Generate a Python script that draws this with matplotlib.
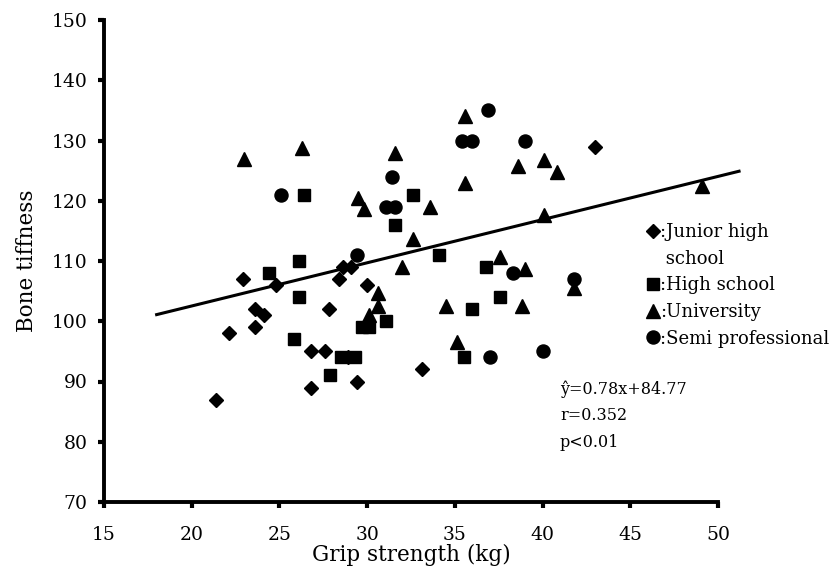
import matplotlib
matplotlib.use("Agg")
import matplotlib.pyplot as plt
from matplotlib.lines import Line2D

plt.rcParams["font.family"] = ["DejaVu Serif", "DejaVu Sans"]

# Junior high school (diamonds)
jh_x = [21.4, 22.1, 22.9, 23.6, 24.1, 23.6, 24.8, 26.8, 27.6, 26.8, 27.8,
        28.4, 28.6, 29.1, 28.9, 29.4, 30.0, 33.1, 43.0]
jh_y = [87, 98, 107, 102, 101, 99, 106, 95, 95, 89, 102,
        107, 109, 109, 94, 90, 106, 92, 129]

# High school (squares)
hs_x = [24.4, 26.1, 26.1, 25.85, 27.9, 26.4, 28.5, 29.3, 29.7, 30.1, 31.1,
        31.6, 32.6, 34.1, 35.5, 36.0, 36.8, 37.6]
hs_y = [108, 110, 104, 97, 91, 121, 94, 94, 99, 99, 100,
        116, 121, 111, 94, 102, 109, 104]

# University (triangles)
un_x = [23.0, 26.3, 29.5, 29.8, 31.6, 32.6, 32.0, 30.6, 30.6, 30.1, 33.6,
        34.5, 35.1, 35.6, 35.6, 37.6, 38.6, 39.0, 38.8, 40.1, 40.85, 40.1,
        41.8, 49.1]
un_y = [127, 128.7, 120.5, 118.7, 128, 113.7, 109, 104.7, 102.6, 101, 119,
        102.6, 96.6, 134, 123, 110.6, 125.7, 108.7, 102.6, 126.7, 124.7, 117.7,
        105.6, 122.5]

# Semi professional (circles)
sp_x = [25.1, 29.4, 31.4, 31.1, 31.6, 35.4, 36.0, 36.9, 39.0, 38.3, 41.8,
        37.0, 40.0]
sp_y = [121, 111, 124, 119, 119, 130, 130, 135, 130, 108, 107,
        94, 95]

# regression line as drawn
line_x = [18.0, 51.2]
line_y = [101.1, 124.9]

x_ticks = [15, 20, 25, 30, 35, 40, 45, 50]
y_ticks = [70, 80, 90, 100, 110, 120, 130, 140, 150]

fig = plt.figure(figsize=(8.35, 5.70), dpi=100)
ax = fig.add_axes([104 / 835, 1 - 502 / 570, 614 / 835, 482 / 570])

ax.plot(line_x, line_y, color="black", lw=2.2, clip_on=False, zorder=2)

ax.plot(jh_x, jh_y, "D", color="black", ms=7, ls="none", clip_on=False, zorder=3)
ax.plot(hs_x, hs_y, "s", color="black", ms=8.3, ls="none", clip_on=False, zorder=3)
ax.plot(un_x, un_y, "^", color="black", ms=10, ls="none", clip_on=False, zorder=3)
ax.plot(sp_x, sp_y, "o", color="black", ms=9.4, ls="none", clip_on=False, zorder=3)

ax.set_xlim(15, 50)
ax.set_ylim(70, 150)
ax.set_xticks(x_ticks)
ax.set_yticks(y_ticks)

for side in ["top", "right"]:
    ax.spines[side].set_visible(False)
for side in ["left", "bottom"]:
    ax.spines[side].set_linewidth(2.8)

ax.tick_params(axis="x", direction="out", length=4, width=3, pad=13, labelsize=13.5)
ax.tick_params(axis="y", direction="out", length=4, width=3, pad=8, labelsize=13.5)

ax.set_xlabel("Grip strength (kg)", fontsize=15.5, labelpad=0)
ax.set_ylabel("Bone tiffness", fontsize=15.5, labelpad=10)

# legend ("school" gets its own row so the spacing stays even)
handles = [
    Line2D([], [], marker="D", color="black", ls="none", ms=7),
    Line2D([], [], ls="none"),
    Line2D([], [], marker="s", color="black", ls="none", ms=8.3),
    Line2D([], [], marker="^", color="black", ls="none", ms=10),
    Line2D([], [], marker="o", color="black", ls="none", ms=9.4),
]
labels = [":Junior high", " school", ":High school", ":University", ":Semi professional"]
fig.legend(handles, labels, loc="upper left", bbox_to_anchor=(637 / 835, 1 - 214 / 570),
           frameon=False, handlelength=0.8, handletextpad=0.0, borderpad=0,
           labelspacing=0.48, fontsize=13)

ax.text(560 / 835, 1 - 380 / 570, "ŷ=0.78x+84.77\nr=0.352\np<0.01",
        transform=fig.transFigure, fontsize=11.5, va="top", ha="left",
        linespacing=1.75)

fig.savefig("out.png", dpi=100)
